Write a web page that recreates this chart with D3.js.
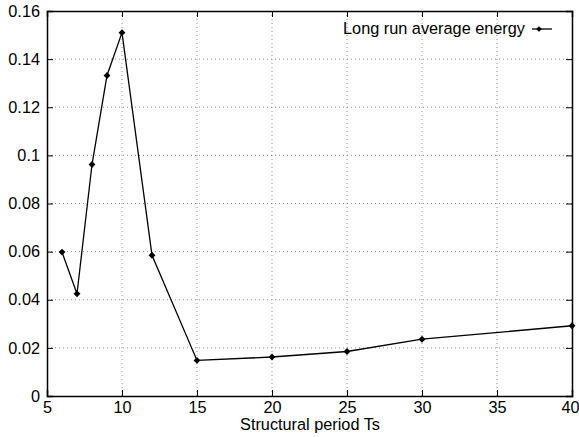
<!DOCTYPE html>
<html><head><meta charset="utf-8">
<script src="https://cdn.jsdelivr.net/npm/d3@7"></script>
<style>body{margin:0;background:#fff}svg{display:block}text{font-family:"Liberation Sans",Arial,sans-serif;fill:#000}</style>
</head><body>
<script>
const xValues = [6, 7, 8, 9, 10, 12, 15, 20, 25, 30, 40];
const energy = [0.0598, 0.0425, 0.0962, 0.1332, 0.1510, 0.0585, 0.0148, 0.0162, 0.0185, 0.0236, 0.0292];
const xTicks = [5, 10, 15, 20, 25, 30, 35, 40];
const yTicks = [0, 0.02, 0.04, 0.06, 0.08, 0.1, 0.12, 0.14, 0.16];
const seriesName = "Long run average energy";
const xTitle = "Structural period Ts";

const W = 579, H = 437;
const m = {left: 47, right: 7, top: 11, bottom: 41};
const FS = "16.3px";
const svg = d3.select("body").append("svg").attr("width", W).attr("height", H);
const x = d3.scaleLinear().domain([5, 40]).range([m.left, W - m.right]);
const y = d3.scaleLinear().domain([0, 0.16]).range([H - m.bottom, m.top]);

const g = svg.append("g");
// grid
g.selectAll(".gx").data(xTicks.slice(1, -1)).join("line")
  .attr("x1", d => x(d)).attr("x2", d => x(d)).attr("y1", y(0)).attr("y2", y(0.16))
  .attr("stroke", "#777").attr("stroke-width", 0.8).attr("stroke-dasharray", "1,3");
g.selectAll(".gy").data(yTicks.slice(1, -1)).join("line")
  .attr("y1", d => y(d)).attr("y2", d => y(d)).attr("x1", x(5)).attr("x2", x(40))
  .attr("stroke", "#777").attr("stroke-width", 0.8).attr("stroke-dasharray", "1,3");

// axes
const fmtY = d => d === 0 ? "0" : String(+d.toFixed(2));
const axB = svg.append("g").attr("transform", `translate(0,${y(0)})`)
  .call(d3.axisBottom(x).tickValues(xTicks).tickSize(-6).tickPadding(5).tickFormat(d3.format("d")));
const axT = svg.append("g").attr("transform", `translate(0,${y(0.16)})`)
  .call(d3.axisTop(x).tickValues(xTicks).tickSize(-6).tickFormat(""));
const axL = svg.append("g").attr("transform", `translate(${x(5)},0)`)
  .call(d3.axisLeft(y).tickValues(yTicks).tickSize(-6).tickPadding(7).tickFormat(fmtY));
const axR = svg.append("g").attr("transform", `translate(${x(40)},0)`)
  .call(d3.axisRight(y).tickValues(yTicks).tickSize(-6).tickFormat(""));
[axB, axT, axL, axR].forEach(a => {
  a.select(".domain").attr("stroke", "#000").attr("stroke-width", 1.5);
  a.selectAll(".tick line").attr("stroke", "#000").attr("stroke-width", 1);
  a.selectAll("text").style("font-size", FS).attr("fill", "#000");
});
axB.selectAll(".tick text").filter(d => d === 40).attr("text-anchor", "end").attr("dx", 7);

// line
const pts = xValues.map((v, i) => [v, energy[i]]);
svg.append("path").datum(pts)
  .attr("d", d3.line().x(d => x(d[0])).y(d => y(d[1])))
  .attr("fill", "none").attr("stroke", "#000").attr("stroke-width", 1.3);
const diamond = d3.symbol().type(d3.symbolDiamond2).size(30);
svg.selectAll(".pt").data(pts).join("path")
  .attr("transform", d => `translate(${x(d[0])},${y(d[1])})`)
  .attr("d", diamond).attr("fill", "#000");

// legend
svg.append("text").attr("x", 525).attr("y", 34).attr("text-anchor", "end")
  .style("font-size", FS).text(seriesName);
svg.append("line").attr("x1", 532).attr("x2", 552).attr("y1", 29).attr("y2", 29)
  .attr("stroke", "#000").attr("stroke-width", 1.3);
svg.append("path").attr("transform", "translate(539,29)").attr("d", d3.symbol().type(d3.symbolDiamond2).size(20)).attr("fill", "#000");

// x title
svg.append("text").attr("x", 310).attr("y", 430).attr("text-anchor", "middle")
  .style("font-size", FS).text(xTitle);
</script>
</body></html>
